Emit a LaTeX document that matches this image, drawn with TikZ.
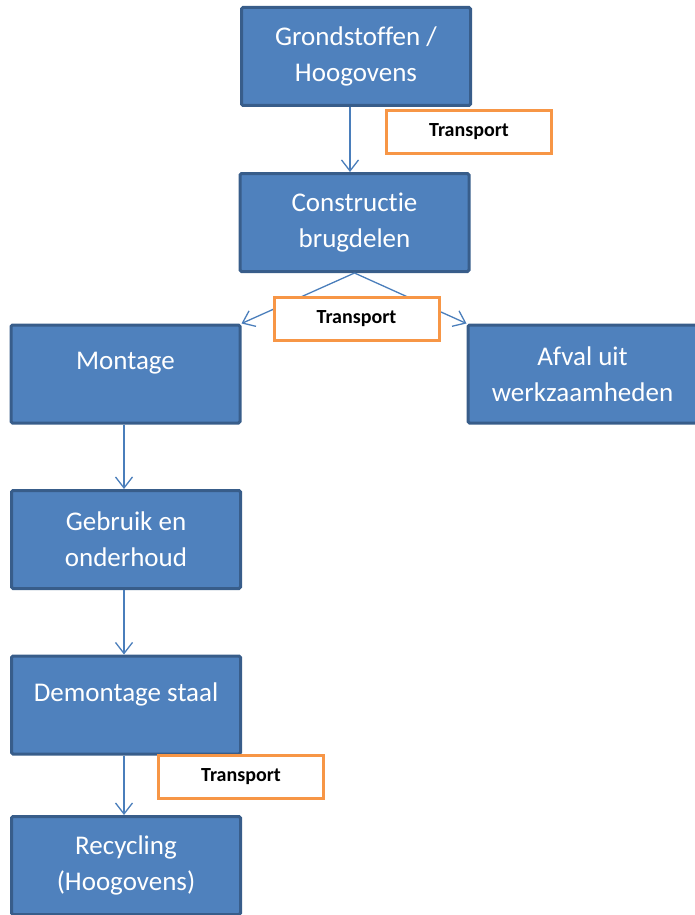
\documentclass[tikz,border=0pt]{standalone}
\usepackage{fontspec}
\newfontfamily\calib[Ligatures={NoCommon}]{Carlito}
\usetikzlibrary{arrows.meta}
\definecolor{boxfill}{HTML}{4F81BD}
\definecolor{boxline}{HTML}{385D8A}
\definecolor{arrowc}{HTML}{4A7EBB}
\definecolor{orangec}{HTML}{F79646}
\tikzset{
  flowbox/.style={draw=boxline, line width=3pt, fill=boxfill, rounded corners=1.5pt,
    minimum width=229pt, minimum height=98pt, inner sep=0pt, align=center,
    text=white, font=\calib\fontsize{27}{36}\selectfont},
  transbox/.style={draw=orangec, line width=3pt, fill=white,
    minimum width=165pt, minimum height=43pt, inner sep=0pt,
    font=\calib\bfseries\fontsize{20}{22}\selectfont, text=black},
  flowarrow/.style={draw=arrowc, line width=1.3pt, -{Straight Barb[length=11pt,width=17pt,line width=1.3pt]}}
}
\begin{document}
\begin{tikzpicture}[x=1pt,y=-1pt]
\useasboundingbox (0,0) rectangle (695,915);
\node[flowbox] (grond) at (356,56.5) {Grondstoffen /\\Hoogovens};
\node[flowbox] (constr) at (354.5,222.5) {Constructie\\brugdelen};
\node[flowbox] (mont) at (125.5,374) {Montage\\[-21pt]\strut};
\node[flowbox] (afval) at (582.5,374) {Afval uit\\werkzaamheden};
\node[flowbox] (gebr) at (126,539.5) {Gebruik en\\onderhoud};
\node[flowbox] (demont) at (126,705) {Demontage staal\\[-21pt]\strut};
\node[flowbox] (recyc) at (126,865.5) {Recycling\\(Hoogovens)};

\draw[flowarrow] ([xshift=-6pt]grond.south) -- ([xshift=-6pt]grond.south |- constr.north);
\draw[flowarrow] (constr.south) -- (mont.north east);
\draw[flowarrow] (constr.south) -- (afval.north west);
\draw[flowarrow] ([xshift=-1.5pt]mont.south) -- ([xshift=-1.5pt]mont.south |- gebr.north);
\draw[flowarrow] ([xshift=-2pt]gebr.south) -- ([xshift=-2pt]gebr.south |- demont.north);
\draw[flowarrow] ([xshift=-2pt]demont.south) -- ([xshift=-2pt]demont.south |- recyc.north);

\node[transbox] (t1) at (469,132) {Transport};
\node[transbox] (t2) at (356.5,318.5) {Transport};
\node[transbox] (t3) at (241,777) {Transport};
\end{tikzpicture}
\end{document}
